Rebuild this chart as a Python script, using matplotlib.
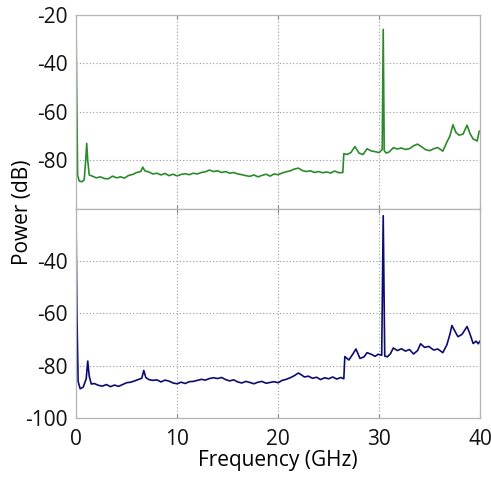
import matplotlib
matplotlib.use("Agg")
import matplotlib.pyplot as plt

# top trace (green)
freq_top = [0.0, 0.08, 0.15, 0.3, 0.6, 0.8, 0.95, 1.05, 1.15, 1.3, 1.6, 2.0, 2.4, 2.8, 3.2,
            3.6, 4.0, 4.4, 4.8, 5.2, 5.6, 6.0, 6.4, 6.6, 6.8, 7.2, 7.6, 8.0, 8.4, 8.8,
            9.2, 9.6, 10.0, 10.4, 10.8, 11.2, 11.6, 12.0, 12.4, 12.8, 13.2, 13.6, 14.0,
            14.4, 14.8, 15.2, 15.6, 16.0, 16.4, 16.8, 17.2, 17.6, 18.0, 18.4, 18.8, 19.2,
            19.6, 20.0, 20.4, 20.8, 21.2, 21.6, 22.0, 22.4, 22.8, 23.2, 23.6, 24.0, 24.4,
            24.8, 25.2, 25.6, 26.0, 26.4, 26.5, 26.8, 27.2, 27.6, 28.0, 28.4, 28.8, 29.2,
            29.6, 30.0, 30.3, 30.4, 30.5, 30.7, 31.0, 31.4, 31.8, 32.2, 32.6, 33.0, 33.4,
            33.8, 34.2, 34.6, 35.0, 35.4, 35.8, 36.3, 36.7, 37.0, 37.3, 37.6, 37.9, 38.3,
            38.7, 39.0, 39.3, 39.7, 39.9, 40.0]
power_top = [-27, -60, -86, -88.5, -88.8, -88, -80, -73, -80, -86, -86.5, -87.2, -86.8, -87.5,
             -87.6, -86.5, -87.2, -86.8, -87.3, -86.2, -85.8, -85.0, -84.6, -82.8, -84.3,
             -84.8, -85.6, -85.3, -86.0, -85.4, -86.3, -85.7, -86.4, -85.8, -85.5, -85.9,
             -85.3, -85.6, -85.0, -84.7, -84.0, -84.6, -84.3, -85.0, -84.6, -85.3, -85.0,
             -85.6, -85.9, -86.3, -86.6, -86.0, -86.8, -86.2, -85.7, -86.5, -85.6, -85.9,
             -85.2, -84.7, -84.3, -83.6, -83.2, -84.2, -84.6, -84.3, -85.0, -84.6, -85.1,
             -84.8, -85.2, -84.4, -85.1, -85.0, -77.2, -77.6, -76.8, -74.3, -77.0, -77.6,
             -75.2, -76.1, -76.4, -76.8, -75.5, -26.0, -76.0, -77.0, -76.5, -74.8, -75.3,
             -74.9, -75.5, -75.2, -74.0, -73.3, -74.4, -75.6, -76.0, -75.2, -74.7, -76.2,
             -72.5, -70.0, -65.3, -68.5, -69.6, -69.2, -65.5, -69.0, -71.2, -72.0, -68.0,
             -67.8]

# bottom trace (navy)
freq_bot = [0.0, 0.08, 0.2, 0.4, 0.7, 1.0, 1.15, 1.3, 1.5, 1.8, 2.2, 2.6, 3.0, 3.4, 3.8,
            4.2, 4.6, 5.0, 5.4, 5.8, 6.2, 6.5, 6.7, 6.9, 7.2, 7.6, 8.0, 8.4, 8.8, 9.2,
            9.6, 10.0, 10.4, 10.8, 11.2, 11.6, 12.0, 12.4, 12.8, 13.2, 13.6, 14.0, 14.4,
            14.8, 15.2, 15.6, 16.0, 16.4, 16.8, 17.2, 17.6, 18.0, 18.4, 18.8, 19.2, 19.6,
            20.0, 20.4, 20.8, 21.2, 21.6, 22.0, 22.3, 22.6, 23.0, 23.4, 23.8, 24.2, 24.6,
            25.0, 25.4, 25.8, 26.2, 26.5, 26.6, 27.0, 27.4, 27.7, 28.1, 28.5, 28.8, 29.2,
            29.6, 29.9, 30.25, 30.4, 30.55, 30.8, 31.1, 31.4, 31.8, 32.2, 32.6, 33.0, 33.4,
            33.8, 34.1, 34.5, 34.9, 35.4, 35.8, 36.3, 36.7, 37.0, 37.2, 37.5, 37.8, 38.2,
            38.7, 39.0, 39.3, 39.6, 39.8, 40.0]
power_bot = [-26.5, -60, -86, -88.8, -88.2, -85, -78.2, -84, -87, -86.8, -87.5, -87.8, -87.2,
             -88.0, -87.4, -87.9, -87.2, -86.5, -86.3, -85.8, -85.2, -84.8, -81.8, -84.5,
             -85.3, -85.6, -85.4, -86.2, -85.5, -85.9, -86.6, -86.9, -86.3, -86.8, -86.1,
             -86.0, -85.6, -85.2, -85.5, -84.9, -84.6, -84.9, -84.5, -85.3, -85.8, -85.4,
             -86.2, -86.6, -86.0, -86.4, -86.9, -86.3, -86.0, -86.7, -86.4, -86.1, -86.5,
             -85.6, -85.2, -84.6, -83.8, -82.8, -83.5, -84.3, -84.0, -84.8, -84.4, -85.3,
             -84.6, -85.0, -84.3, -85.1, -84.5, -85.0, -76.5, -77.8, -75.5, -73.6, -77.2,
             -76.6, -75.0, -75.6, -76.4, -75.6, -76.0, -22.6, -76.3, -76.6, -75.5, -73.2,
             -74.2, -73.5, -74.4, -73.8, -75.5, -74.2, -71.6, -73.0, -72.6, -74.0, -73.6,
             -75.0, -72.0, -68.0, -64.6, -66.8, -68.9, -68.0, -65.0, -68.0, -71.5, -70.6,
             -71.6, -70.5]

x_ticks = [0, 10, 20, 30, 40]
y_ticks_top = [-20, -40, -60, -80]
y_ticks_bot = [-40, -60, -80, -100]

plt.rcParams['font.family'] = ['Open Sans', 'DejaVu Sans']
plt.rcParams['axes.unicode_minus'] = False

fig = plt.figure(figsize=(4.91, 4.78), dpi=100)
ax1 = fig.add_axes([0.155, 0.563, 0.823, 0.406])
ax2 = fig.add_axes([0.155, 0.1255, 0.823, 0.4375])

ax1.plot(freq_top, power_top, color="#2b8a2b", lw=1.2)
ax2.plot(freq_bot, power_bot, color="#0c0c70", lw=1.2)

for ax, yt in [(ax1, y_ticks_top), (ax2, y_ticks_bot)]:
    ax.set_xlim(0, 40)
    ax.set_ylim(-100, -20)
    ax.set_xticks(x_ticks)
    ax.set_yticks(yt)
    ax.grid(True, linestyle=(0, (1, 2)), color="#999999", lw=0.8)
    for s in ax.spines.values():
        s.set_color("#b5b5b5")
        s.set_linewidth(0.9)
    ax.tick_params(axis="both", labelsize=15, length=0, pad=6, colors="#111111")
    ax.tick_params(axis="x", direction="in", length=3, color="#888888", top=True, pad=8)

ax1.tick_params(axis="x", labelbottom=False)
ax2.set_xlabel("Frequency (GHz)", fontsize=15, labelpad=0)
fig.text(0.045, 0.556, "Power (dB)", rotation=90, fontsize=15, ha="center", va="center")

plt.savefig("out.png", dpi=100)
